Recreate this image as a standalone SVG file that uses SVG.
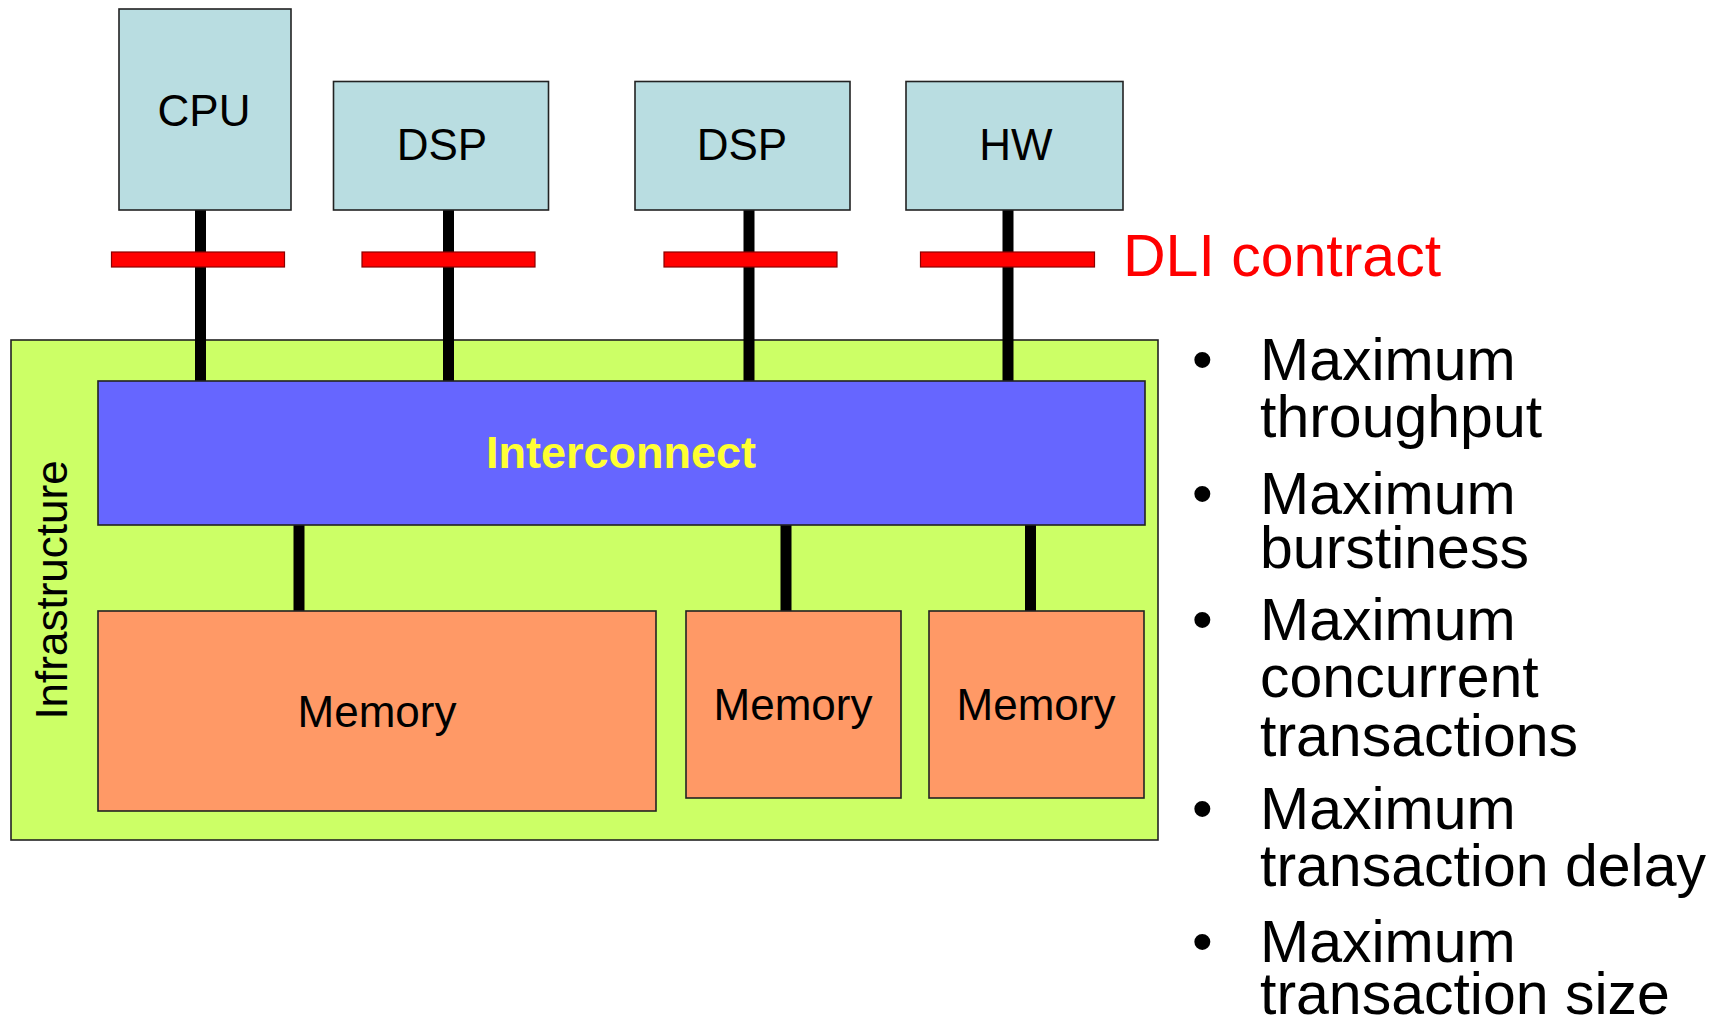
<svg xmlns="http://www.w3.org/2000/svg" width="1726" height="1021" viewBox="0 0 1726 1021">
  <style>
    .lbl { font-family: "Liberation Sans", Arial, sans-serif; fill: #000; }
    .pe { fill: #b9dde1; stroke: #222; stroke-width: 1.6; }
    .mem { fill: #ff9966; stroke: #222; stroke-width: 1.6; }
    .link { stroke: #000; stroke-width: 11; }
    .dli { fill: #ff0000; stroke: #8a0000; stroke-width: 1.2; }
    .bul { font-family: "Liberation Sans", Arial, sans-serif; font-size: 59px; fill: #000; }
  </style>

  <rect width="1726" height="1021" fill="#ffffff"/>

  <!-- infrastructure container -->
  <g id="infrastructure">
    <rect x="11" y="340" width="1147" height="500" fill="#ccff66" stroke="#222" stroke-width="1.6"/>
    <text class="lbl" font-size="44" text-anchor="middle" transform="translate(67,590) rotate(-90)">Infrastructure</text>
  </g>

  <!-- links between processing elements, interconnect and memories -->
  <g id="connectors">
    <line class="link" x1="200.5" y1="210" x2="200.5" y2="381"/>
    <line class="link" x1="448.5" y1="210" x2="448.5" y2="381"/>
    <line class="link" x1="749" y1="210" x2="749" y2="381"/>
    <line class="link" x1="1008" y1="210" x2="1008" y2="381"/>
    <line class="link" x1="299" y1="525" x2="299" y2="611"/>
    <line class="link" x1="786" y1="525" x2="786" y2="611"/>
    <line class="link" x1="1030.5" y1="525" x2="1030.5" y2="611"/>
  </g>

  <g id="interconnect">
    <rect x="98" y="381" width="1047" height="144" fill="#6666ff" stroke="#222" stroke-width="1.6"/>
    <text x="621" y="468" font-family="Liberation Sans, Arial, sans-serif" font-weight="bold" font-size="45" fill="#ffff33" text-anchor="middle">Interconnect</text>
  </g>

  <g id="cpu">
    <rect class="pe" x="119" y="9" width="172" height="201"/>
    <text class="lbl" x="204" y="126" font-size="44" text-anchor="middle">CPU</text>
  </g>
  <g id="dsp1">
    <rect class="pe" x="333.5" y="81.5" width="215" height="128.5"/>
    <text class="lbl" x="442" y="160" font-size="44" text-anchor="middle">DSP</text>
  </g>
  <g id="dsp2">
    <rect class="pe" x="635" y="81.5" width="215" height="128.5"/>
    <text class="lbl" x="742" y="160" font-size="44" text-anchor="middle">DSP</text>
  </g>
  <g id="hw">
    <rect class="pe" x="906" y="81.5" width="217" height="128.5"/>
    <text class="lbl" x="1016" y="160" font-size="44" text-anchor="middle">HW</text>
  </g>

  <g id="memory1">
    <rect class="mem" x="98" y="611" width="558" height="200"/>
    <text class="lbl" x="377" y="727" font-size="44" text-anchor="middle">Memory</text>
  </g>
  <g id="memory2">
    <rect class="mem" x="686" y="611" width="215" height="187"/>
    <text class="lbl" x="793" y="720" font-size="44" text-anchor="middle">Memory</text>
  </g>
  <g id="memory3">
    <rect class="mem" x="929" y="611" width="215" height="187"/>
    <text class="lbl" x="1036" y="720" font-size="44" text-anchor="middle">Memory</text>
  </g>

  <!-- DLI contract boundaries on each link -->
  <g id="dli-contract">
    <rect class="dli" x="111.5" y="252" width="173" height="15"/>
    <rect class="dli" x="362" y="252" width="173" height="15"/>
    <rect class="dli" x="664" y="252" width="173" height="15"/>
    <rect class="dli" x="920.5" y="252" width="174" height="15"/>
    <text x="1123" y="276" font-family="Liberation Sans, Arial, sans-serif" font-size="59" fill="#ff0000">DLI contract</text>
  </g>

  <!-- contract parameters -->
  <g id="parameters">
    <text class="bul" x="1192" y="380">•</text>
    <text class="bul" x="1260" y="380">Maximum</text>
    <text class="bul" x="1260" y="437">throughput</text>
    <text class="bul" x="1192" y="514">•</text>
    <text class="bul" x="1260" y="514">Maximum</text>
    <text class="bul" x="1260" y="568">burstiness</text>
    <text class="bul" x="1192" y="640">•</text>
    <text class="bul" x="1260" y="640">Maximum</text>
    <text class="bul" x="1260" y="697">concurrent</text>
    <text class="bul" x="1260" y="756">transactions</text>
    <text class="bul" x="1192" y="829">•</text>
    <text class="bul" x="1260" y="829">Maximum</text>
    <text class="bul" x="1260" y="886">transaction delay</text>
    <text class="bul" x="1192" y="962">•</text>
    <text class="bul" x="1260" y="962">Maximum</text>
    <text class="bul" x="1260" y="1014">transaction size</text>
  </g>
</svg>
